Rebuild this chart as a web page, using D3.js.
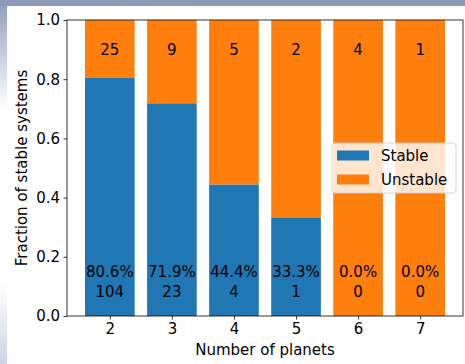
<!DOCTYPE html>
<html>
<head>
<meta charset="utf-8">
<script src="https://cdn.jsdelivr.net/npm/d3@7"></script>
<style>
  html, body { margin: 0; padding: 0; background: #fff; }
  svg { display: block; font-family: "DejaVu Sans", sans-serif; }
</style>
</head>
<body>
<svg id="chart" width="465" height="364"></svg>
<script>
// Planet-count categories and system counts per category
const planets = [2, 3, 4, 5, 6, 7];
const stableCounts = [104, 23, 4, 1, 0, 0];
const unstableCounts = [25, 9, 5, 2, 4, 1];
const yTicks = [0.0, 0.2, 0.4, 0.6, 0.8, 1.0];
const seriesNames = ["Stable", "Unstable"];
const colors = ["#1f77b4", "#ff7f0e"];

const rows = planets.map((p, i) => {
  const total = stableCounts[i] + unstableCounts[i];
  return { p, stable: stableCounts[i], unstable: unstableCounts[i],
           fs: stableCounts[i] / total, fu: unstableCounts[i] / total };
});

const svg = d3.select("#chart");
const W = 465, H = 364;
const fontSize = 15;

// slide-style backdrop: blue-grey band on top, fading strip on the left
const defs = svg.append("defs");
const lg = defs.append("linearGradient").attr("id", "leftStrip")
  .attr("x1", 0).attr("y1", 0).attr("x2", 0).attr("y2", 1);
[[0, "#8e9cba"], [0.3, "#ffffff"], [0.78, "#ffffff"], [1, "#ccd3e2"]]
  .forEach(([o, c]) => lg.append("stop").attr("offset", o).attr("stop-color", c));
const tg = defs.append("linearGradient").attr("id", "topBand")
  .attr("x1", 0).attr("y1", 0).attr("x2", 1).attr("y2", 0);
[[0, "#8d9bb9"], [1, "#8a9ab8"]]
  .forEach(([o, c]) => tg.append("stop").attr("offset", o).attr("stop-color", c));
svg.append("rect").attr("x", 0).attr("y", 0).attr("width", 7).attr("height", H).attr("fill", "url(#leftStrip)");
svg.append("rect").attr("x", 0).attr("y", 0).attr("width", W).attr("height", 6).attr("fill", "url(#topBand)");

// plot area
const pLeft = 67, pRight = 463, pTop = 20, pBottom = 316;
const barWidth = 0.8;
const pad = (planets[planets.length - 1] - planets[0] + barWidth) * 0.05;
const x = d3.scaleLinear()
  .domain([planets[0] - barWidth / 2 - pad, planets[planets.length - 1] + barWidth / 2 + pad])
  .range([pLeft, pRight]);
const y = d3.scaleLinear().domain([0, 1]).range([pBottom, pTop]);
const bw = x(barWidth) - x(0);

const g = svg.append("g");

// stable part
g.selectAll("rect.stable").data(rows).join("rect")
  .attr("class", "stable")
  .attr("x", d => x(d.p) - bw / 2).attr("width", bw)
  .attr("y", d => y(d.fs)).attr("height", d => y(0) - y(d.fs))
  .attr("fill", colors[0]);
// unstable part stacked on top
g.selectAll("rect.unstable").data(rows).join("rect")
  .attr("class", "unstable")
  .attr("x", d => x(d.p) - bw / 2).attr("width", bw)
  .attr("y", d => y(d.fs + d.fu)).attr("height", d => y(d.fs) - y(d.fs + d.fu))
  .attr("fill", colors[1]);

// labels: unstable count near the top, stable share + count near the bottom
const lab = g.append("g").attr("font-size", fontSize).attr("fill", "#000").attr("text-anchor", "middle");
lab.selectAll("text.top").data(rows).join("text")
  .attr("x", d => x(d.p)).attr("y", y(0.9)).attr("dy", "0.36em")
  .text(d => d.unstable);
lab.selectAll("text.pct").data(rows).join("text")
  .attr("x", d => x(d.p)).attr("y", y(0.15)).attr("dy", "0.36em")
  .text(d => (d.fs * 100).toFixed(1) + "%");
lab.selectAll("text.cnt").data(rows).join("text")
  .attr("x", d => x(d.p)).attr("y", y(0.15) + 20).attr("dy", "0.36em")
  .text(d => d.stable);

// axes
const xAxis = svg.append("g").attr("transform", `translate(0,${pBottom})`)
  .call(d3.axisBottom(x).tickValues(planets).tickFormat(d3.format("d")).tickSize(3.5).tickPadding(3.5));
const yAxis = svg.append("g").attr("transform", `translate(${pLeft},0)`)
  .call(d3.axisLeft(y).tickValues(yTicks).tickFormat(d3.format(".1f")).tickSize(3.5).tickPadding(3.5));
[xAxis, yAxis].forEach(a => {
  a.select(".domain").remove();
  a.selectAll("text").attr("font-size", fontSize).attr("font-family", "DejaVu Sans").attr("fill", "#000");
  a.selectAll("line").attr("stroke", "#000").attr("stroke-width", 0.8);
});

// spines
svg.append("rect").attr("x", pLeft).attr("y", pTop).attr("width", pRight - pLeft).attr("height", pBottom - pTop)
  .attr("fill", "none").attr("stroke", "#000").attr("stroke-width", 0.8);

// axis titles
svg.append("text").attr("x", (pLeft + pRight) / 2).attr("y", 350).attr("dy", "0.36em")
  .attr("text-anchor", "middle").attr("font-size", fontSize).text("Number of planets");
svg.append("text").attr("transform", `translate(22,${(pTop + pBottom) / 2}) rotate(-90)`)
  .attr("dy", "0.36em").attr("text-anchor", "middle").attr("font-size", fontSize)
  .text("Fraction of stable systems");

// legend
const lgX = 332, lgY = 143, lgW = 124, lgH = 50;
const legend = svg.append("g");
legend.append("rect").attr("x", lgX).attr("y", lgY).attr("width", lgW).attr("height", lgH)
  .attr("rx", 3).attr("fill", "#fff").attr("fill-opacity", 0.8)
  .attr("stroke", "#cccccc").attr("stroke-width", 0.8);
seriesNames.forEach((name, i) => {
  const cy = lgY + 12.5 + i * 24;
  legend.append("rect").attr("x", lgX + 5).attr("y", cy - 5).attr("width", 32).attr("height", 10)
    .attr("fill", colors[i]);
  legend.append("text").attr("x", lgX + 49).attr("y", cy).attr("dy", "0.36em")
    .attr("font-size", fontSize).text(name);
});
</script>
</body>
</html>
